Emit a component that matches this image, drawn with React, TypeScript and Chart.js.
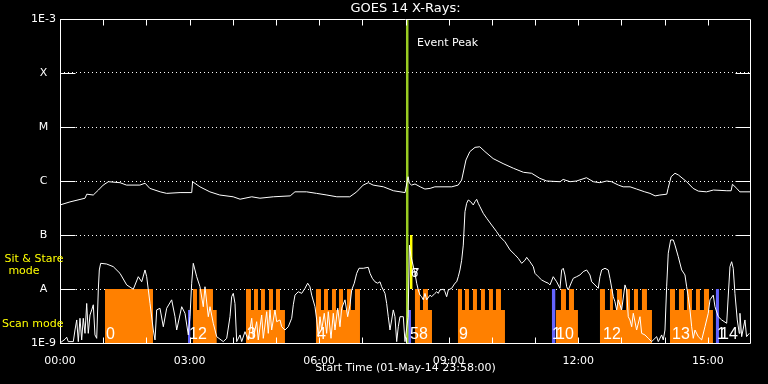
import React, { useEffect, useRef } from 'react';
import { Chart, registerables } from 'chart.js';

Chart.register(...registerables);

// ---------- data ----------
const yTickValues = [1e-9, 1e-8, 1e-7, 1e-6, 1e-5, 1e-4, 1e-3];
const yTickLabels = ['1E-9', 'A', 'B', 'C', 'M', 'X', '1E-3'];
const innerLevels = [1e-8, 1e-7, 1e-6, 1e-5, 1e-4];
const xTickValues = [0, 3, 6, 9, 12, 15];
const xTickLabels = ['00:00', '03:00', '06:00', '09:00', '12:00', '15:00'];
const hourMarks = [0, 1, 2, 3, 4, 5, 6, 7, 8, 9, 10, 11, 12, 13, 14, 15];
const eventPeakTime = 8.04;

// GOES long channel (1-8 A), hours since start, W/m^2
const longTimes = [0, 0.23, 0.58, 0.62, 0.77, 0.89, 1.0, 1.12, 1.39, 1.54, 1.85, 1.97, 2.08, 2.32, 2.47, 2.78, 3.05, 3.07, 3.24, 3.47, 3.7, 4.01, 4.17, 4.44, 4.63, 4.94, 5.33, 5.44, 5.71, 5.94, 6.18, 6.41, 6.71, 6.87, 7.02, 7.14, 7.25, 7.49, 7.72, 7.99, 8.06, 8.09, 8.14, 8.22, 8.34, 8.45, 8.57, 8.68, 9.07, 9.22, 9.3, 9.4, 9.49, 9.61, 9.72, 9.84, 10.03, 10.26, 10.5, 10.73, 10.92, 11.11, 11.27, 11.58, 11.65, 11.81, 11.96, 12.19, 12.35, 12.5, 12.66, 12.77, 12.93, 13.04, 13.2, 13.35, 13.54, 13.66, 13.78, 13.89, 14.05, 14.08, 14.15, 14.24, 14.32, 14.51, 14.66, 14.78, 14.97, 15.13, 15.44, 15.54, 15.57, 15.67, 15.74, 15.98];
const longFlux = [3.6e-7, 4.1e-7, 4.8e-7, 5.7e-7, 5.5e-7, 6.8e-7, 8.4e-7, 9.7e-7, 9.3e-7, 8.4e-7, 8.4e-7, 9.1e-7, 7.3e-7, 6.3e-7, 5.9e-7, 6.1e-7, 6.1e-7, 9.7e-7, 7.8e-7, 6.3e-7, 5.5e-7, 5.1e-7, 4.6e-7, 5.1e-7, 4.8e-7, 5.1e-7, 5.3e-7, 6.3e-7, 6.3e-7, 5.9e-7, 5.5e-7, 5.1e-7, 5.1e-7, 6.3e-7, 8.4e-7, 9.3e-7, 8.4e-7, 7.8e-7, 6.6e-7, 6.1e-7, 1.2e-6, 9.1e-7, 8.4e-7, 8.8e-7, 7.8e-7, 7.1e-7, 7.3e-7, 7.8e-7, 7.8e-7, 8.4e-7, 1.04e-6, 2.45e-6, 3.5e-6, 4.2e-6, 4.3e-6, 3.5e-6, 2.6e-6, 2.1e-6, 1.72e-6, 1.45e-6, 1.39e-6, 1.12e-6, 1.0e-6, 9.7e-7, 1.07e-6, 9.7e-7, 1.0e-6, 1.15e-6, 9.7e-7, 9.3e-7, 1.0e-6, 9.7e-7, 8.4e-7, 7.8e-7, 7.8e-7, 7.1e-7, 6.3e-7, 5.9e-7, 5.3e-7, 5.5e-7, 5.7e-7, 7.3e-7, 1.2e-6, 1.39e-6, 1.29e-6, 9.7e-7, 7.3e-7, 6.5e-7, 6.3e-7, 6.8e-7, 6.6e-7, 6.6e-7, 8.7e-7, 7.3e-7, 6.3e-7, 6.3e-7];

// GOES short channel (0.5-4 A)
const shortTimes = [0, 0.116, 0.155, 0.192, 0.308, 0.347, 0.387, 0.424, 0.463, 0.502, 0.539, 0.579, 0.618, 0.655, 0.695, 0.734, 0.771, 0.81, 0.85, 0.887, 0.91, 0.942, 1.081, 1.234, 1.389, 1.544, 1.697, 1.813, 1.892, 1.968, 2.007, 2.084, 2.16, 2.2, 2.239, 2.315, 2.392, 2.47, 2.586, 2.663, 2.702, 2.818, 2.894, 2.971, 3.01, 3.049, 3.086, 3.165, 3.241, 3.318, 3.357, 3.434, 3.473, 3.549, 3.628, 3.781, 3.86, 3.936, 3.975, 4.012, 4.052, 4.091, 4.168, 4.207, 4.283, 4.36, 4.439, 4.476, 4.554, 4.591, 4.67, 4.707, 4.786, 4.823, 4.862, 4.901, 4.978, 5.017, 5.094, 5.133, 5.209, 5.286, 5.365, 5.402, 5.441, 5.517, 5.596, 5.673, 5.735, 5.788, 5.828, 5.904, 5.944, 5.981, 6.02, 6.059, 6.119, 6.175, 6.212, 6.275, 6.328, 6.367, 6.43, 6.483, 6.522, 6.599, 6.661, 6.715, 6.754, 6.814, 6.87, 6.923, 7.022, 7.138, 7.178, 7.231, 7.293, 7.356, 7.409, 7.448, 7.525, 7.564, 7.601, 7.641, 7.68, 7.717, 7.756, 7.796, 7.833, 7.872, 7.949, 7.988, 8.06, 8.092, 8.127, 8.219, 8.259, 8.296, 8.335, 8.374, 8.412, 8.451, 8.49, 8.567, 8.606, 8.682, 8.722, 8.759, 8.798, 8.875, 8.914, 8.953, 8.991, 9.069, 9.145, 9.185, 9.222, 9.261, 9.3, 9.338, 9.377, 9.416, 9.454, 9.509, 9.569, 9.609, 9.648, 9.685, 9.724, 9.801, 9.88, 9.995, 10.111, 10.188, 10.303, 10.419, 10.535, 10.611, 10.69, 10.766, 10.806, 10.882, 10.959, 10.998, 11.074, 11.153, 11.229, 11.306, 11.345, 11.421, 11.5, 11.577, 11.616, 11.653, 11.692, 11.732, 11.769, 11.848, 11.885, 11.963, 12.04, 12.116, 12.195, 12.271, 12.311, 12.387, 12.463, 12.503, 12.542, 12.619, 12.695, 12.734, 12.811, 12.85, 12.889, 12.926, 13.005, 13.082, 13.121, 13.158, 13.197, 13.237, 13.274, 13.352, 13.429, 13.468, 13.545, 13.621, 13.7, 13.816, 13.853, 13.931, 13.968, 14.008, 14.047, 14.084, 14.14, 14.2, 14.24, 14.316, 14.395, 14.471, 14.51, 14.547, 14.587, 14.626, 14.663, 14.703, 14.779, 14.858, 14.934, 15.01, 15.05, 15.126, 15.166, 15.242, 15.321, 15.437, 15.513, 15.552, 15.589, 15.628, 15.682, 15.728, 15.744, 15.784, 15.86, 15.897, 15.96];
const shortFlux = [1.0e-9, 1.17e-9, 1.28e-9, 1.06e-9, 1.06e-9, 1.74e-9, 2.67e-9, 1.06e-9, 2.87e-9, 1.14e-9, 2.87e-9, 1.51e-9, 5.4e-9, 1.51e-9, 3.3e-9, 4.1e-9, 5.1e-9, 1.41e-9, 1.22e-9, 9.6e-9, 2.25e-8, 2.99e-8, 2.9e-8, 2.59e-8, 1.95e-8, 1.19e-8, 9.9e-9, 1.69e-8, 1.36e-8, 2.25e-8, 1.69e-8, 5.4e-9, 1.74e-9, 1.14e-9, 4.1e-9, 4.4e-9, 2.0e-9, 4.4e-9, 6.3e-9, 3.07e-9, 1.74e-9, 4.7e-9, 3.55e-9, 1.41e-9, 3.07e-9, 1.28e-8, 2.99e-8, 1.69e-8, 1.1e-8, 4.7e-9, 1.1e-8, 3.07e-9, 4.7e-9, 2.32e-9, 1.31e-9, 1.06e-9, 1.22e-9, 3.07e-9, 7.2e-9, 8.3e-9, 5.4e-9, 1.06e-9, 1.41e-9, 1.06e-9, 1.62e-9, 1.14e-9, 2.87e-9, 1.22e-9, 2.48e-9, 1.14e-9, 3.3e-9, 1.22e-9, 3.8e-9, 1.51e-9, 4.1e-9, 1.74e-9, 4.1e-9, 2.48e-9, 2.67e-9, 2.0e-9, 1.74e-9, 2.0e-9, 2.87e-9, 5.1e-9, 7.7e-9, 8.9e-9, 8.3e-9, 1.03e-8, 1.28e-8, 1.1e-8, 7.7e-9, 4.7e-9, 2.67e-9, 1.31e-9, 3.07e-9, 1.74e-9, 3.55e-9, 1.51e-9, 3.8e-9, 1.22e-9, 3.55e-9, 1.74e-9, 4.4e-9, 2.0e-9, 4.4e-9, 6.3e-9, 3.07e-9, 5.1e-9, 9.6e-9, 1.28e-8, 1.95e-8, 2.42e-8, 2.42e-8, 2.52e-8, 1.95e-8, 1.58e-8, 1.36e-8, 1.28e-8, 1.36e-8, 1.1e-8, 8.3e-9, 5.4e-9, 3.07e-9, 1.74e-9, 2.67e-9, 4.1e-9, 3.07e-9, 1.06e-9, 2.0e-9, 3.07e-9, 3.07e-9, 1.06e-9, 3.0e-9, 6.5e-8, 4.0e-8, 1.95e-8, 1.28e-8, 9.6e-9, 7.7e-9, 7.2e-9, 6.3e-9, 8.3e-9, 6.3e-9, 7.7e-9, 7.2e-9, 8.3e-9, 8.9e-9, 8.3e-9, 9.6e-9, 9.9e-9, 8.9e-9, 7.2e-9, 9.6e-9, 1.03e-8, 1.28e-8, 1.36e-8, 1.69e-8, 2.25e-8, 3.4e-8, 6.5e-8, 2.7e-7, 3.86e-7, 4.45e-7, 4.14e-7, 3.6e-7, 4.14e-7, 4.58e-7, 3.86e-7, 3.34e-7, 2.52e-7, 2.04e-7, 1.53e-7, 1.15e-7, 9.3e-8, 7.5e-8, 5.3e-8, 4.3e-8, 3.7e-8, 2.99e-8, 3.4e-8, 3.86e-8, 3.2e-8, 2.59e-8, 1.95e-8, 1.69e-8, 1.47e-8, 1.36e-8, 1.28e-8, 1.19e-8, 1.69e-8, 1.36e-8, 1.03e-8, 2.25e-8, 2.42e-8, 1.82e-8, 1.1e-8, 9.6e-9, 1.36e-8, 1.58e-8, 1.69e-8, 1.82e-8, 2.1e-8, 2.25e-8, 1.82e-8, 1.36e-8, 1.19e-8, 1.03e-8, 1.69e-8, 2.25e-8, 2.42e-8, 2.25e-8, 1.58e-8, 7.2e-9, 5.8e-9, 4.1e-9, 6.3e-9, 4.1e-9, 1.19e-8, 9.6e-9, 3.07e-9, 2.67e-9, 2.0e-9, 3.55e-9, 1.74e-9, 3.07e-9, 1.51e-9, 1.41e-9, 1.22e-9, 1.06e-9, 1.31e-9, 1.06e-9, 1.41e-9, 1.14e-9, 1.74e-9, 1.1e-8, 4.6e-8, 8.1e-8, 8.1e-8, 6.5e-8, 3.96e-8, 2.25e-8, 1.82e-8, 1.1e-8, 7.2e-9, 4.1e-9, 2.0e-9, 1.22e-9, 1.74e-9, 1.31e-9, 1.14e-9, 2.0e-9, 3.55e-9, 6.3e-9, 7.7e-9, 4.7e-9, 3.07e-9, 2.67e-9, 2.32e-9, 2.59e-8, 3.2e-8, 2.42e-8, 8.3e-9, 2.67e-9, 1.51e-9, 3.55e-9, 1.31e-9, 2.67e-9, 1.31e-9, 1.51e-9];

// Scan-mode observations (orange): level holds from each time to the next
const scanTimes = [1.042, 2.153, 3.079, 3.172, 3.225, 3.542, 3.628, 4.307, 4.422, 4.492, 4.584, 4.654, 4.746, 4.839, 4.932, 5.001, 5.094, 5.209, 5.927, 6.043, 6.113, 6.205, 6.298, 6.39, 6.46, 6.553, 6.645, 6.738, 6.83, 6.946, 8.219, 8.335, 8.405, 8.52, 8.613, 9.215, 9.308, 9.377, 9.47, 9.562, 9.655, 9.748, 9.84, 9.933, 10.025, 10.095, 10.211, 10.303, 11.484, 11.6, 11.716, 11.785, 11.901, 11.993, 12.503, 12.619, 12.734, 12.804, 12.896, 13.012, 13.105, 13.198, 13.29, 13.383, 13.475, 13.591, 13.707, 14.124, 14.24, 14.332, 14.448, 14.517, 14.633, 14.726, 14.818, 14.911, 15.027, 15.119];
const scanLevels = [1e-8, 1e-9, 1e-8, 4.1e-9, 1e-8, 4.1e-9, 1e-9, 1e-8, 4.1e-9, 1e-8, 4.1e-9, 1e-8, 4.1e-9, 1e-8, 4.1e-9, 1e-8, 4.1e-9, 1e-9, 1e-8, 4.1e-9, 1e-8, 4.1e-9, 1e-8, 4.1e-9, 1e-8, 4.1e-9, 1e-8, 4.1e-9, 1e-8, 1e-9, 1e-8, 4.1e-9, 1e-8, 4.1e-9, 1e-9, 1e-8, 4.1e-9, 1e-8, 4.1e-9, 1e-8, 4.1e-9, 1e-8, 4.1e-9, 1e-8, 4.1e-9, 1e-8, 4.1e-9, 1e-9, 4.1e-9, 1e-8, 4.1e-9, 1e-8, 4.1e-9, 1e-9, 1e-8, 4.1e-9, 1e-8, 4.1e-9, 1e-8, 4.1e-9, 1e-8, 4.1e-9, 1e-8, 4.1e-9, 1e-8, 4.1e-9, 1e-9, 1e-8, 4.1e-9, 1e-8, 4.1e-9, 1e-8, 4.1e-9, 1e-8, 4.1e-9, 1e-8, 4.1e-9, 1e-9];

// Other observations (blue)
const blueTimes = [2.964, 3.017, 8.05, 8.127, 11.391, 11.468, 15.188, 15.258];
const blueLevels = [4.1e-9, 1e-9, 4.1e-9, 1e-9, 1e-8, 1e-9, 1e-8, 1e-9];

// Sit & stare observation (yellow), between B and A levels
const stareTimes = [8.103, 8.166];
const stareTop = [1e-7, 1e-7];
const stareBottom = 1e-8;

// Observation number labels
const obsLabelTimes = [1.065, 2.987, 4.33, 5.95, 8.104, 9.238, 11.39, 11.48, 12.572, 14.17, 15.21, 15.28];
const obsLabelTexts = ['0', '12', '3', '4', '58', '9', '1', '10', '12', '13', '1', '14'];
const stareLabelTimes = [8.12, 8.16];
const stareLabelTexts = ['6', '7'];

const pts = (xs: number[], ys: number[]) => xs.map((x, i) => ({ x, y: ys[i] }));

const decorPlugin = {
  id: 'decor',
  afterDatasetsDraw(chart: any) {
    const { ctx, chartArea, scales } = chart;
    const xs = scales.x;
    const bottom = chartArea.bottom;
    ctx.save();
    ctx.fillStyle = '#ffffff';
    ctx.textBaseline = 'alphabetic';
    ctx.textAlign = 'left';
    ctx.font = '16px "Liberation Sans"';
    obsLabelTimes.forEach((t, i) => {
      ctx.fillText(obsLabelTexts[i], Math.round(xs.getPixelForValue(t)), bottom - 4);
    });
    ctx.font = '13px "Liberation Sans"';
    stareLabelTimes.forEach((t, i) => {
      ctx.fillText(stareLabelTexts[i], Math.round(xs.getPixelForValue(t)), bottom - 66);
    });
    ctx.restore();
  },
  afterDraw(chart: any) {
    const { ctx, chartArea, scales } = chart;
    const xs = scales.x;
    const ys = scales.y;
    const L = Math.floor(chartArea.left) + 0.5;
    const R = Math.floor(chartArea.right) - 0.5;
    const T = Math.floor(chartArea.top) + 0.5;
    const B = Math.floor(chartArea.bottom) + 0.5;
    ctx.save();
    ctx.strokeStyle = '#ffffff';
    ctx.lineWidth = 1;
    ctx.setLineDash([]);
    ctx.beginPath();
    ctx.moveTo(L, T); ctx.lineTo(R, T); ctx.lineTo(R, B); ctx.lineTo(L, B); ctx.closePath();
    innerLevels.forEach((v) => {
      const y = Math.round(ys.getPixelForValue(v)) + 0.5;
      ctx.moveTo(L, y); ctx.lineTo(L + 15, y);
      ctx.moveTo(R - 15, y); ctx.lineTo(R, y);
    });
    hourMarks.forEach((h) => {
      const x = Math.round(xs.getPixelForValue(h)) + 0.5;
      ctx.moveTo(x, T); ctx.lineTo(x, T + 6);
      ctx.moveTo(x, B); ctx.lineTo(x, B - 6);
    });
    ctx.stroke();

    ctx.font = '11px "DejaVu Sans"';
    ctx.textBaseline = 'middle';
    ctx.fillStyle = '#ffffff';
    ctx.textAlign = 'left';
    ctx.fillText('Event Peak', Math.round(xs.getPixelForValue(eventPeakTime)) + 10, T + 24);

    ctx.fillStyle = '#ffff00';
    ctx.textAlign = 'center';
    ctx.fillText('Sit & Stare', 34, 259);
    ctx.fillText('mode', 24, 271);
    ctx.textAlign = 'left';
    ctx.fillText('Scan mode', 2, 324);
    ctx.restore();
  },
};

export default function App() {
  const ref = useRef<HTMLCanvasElement | null>(null);
  useEffect(() => {
    document.body.style.margin = '0';
    document.body.style.background = '#000';
    Chart.defaults.font.family = '"DejaVu Sans"';
    const chart = new Chart(ref.current as HTMLCanvasElement, {
      type: 'line',
      data: {
        datasets: [
          { label: 'long', data: pts(longTimes, longFlux), borderColor: '#ffffff', borderWidth: 1, pointRadius: 0, fill: false, tension: 0 },
          { label: 'short', data: pts(shortTimes, shortFlux), borderColor: '#ffffff', borderWidth: 1, pointRadius: 0, fill: false, tension: 0 },
          { label: 'peak', data: [{ x: eventPeakTime, y: 1e-9 }, { x: eventPeakTime, y: 1e-3 }], borderColor: '#99cc22', borderWidth: 2.5, pointRadius: 0, fill: false },
          { label: 'stare', data: pts(stareTimes, stareTop), stepped: 'before', borderColor: 'rgba(0,0,0,0)', borderWidth: 0, pointRadius: 0, backgroundColor: '#ffff00', fill: { value: stareBottom } },
          { label: 'blue', data: pts(blueTimes, blueLevels), stepped: 'before', borderColor: 'rgba(0,0,0,0)', borderWidth: 0, pointRadius: 0, backgroundColor: '#6464ff', fill: 'start' },
          { label: 'scan', data: pts(scanTimes, scanLevels), stepped: 'before', borderColor: 'rgba(0,0,0,0)', borderWidth: 0, pointRadius: 0, backgroundColor: '#ff8000', fill: 'start' },
        ],
      },
      options: {
        responsive: false,
        maintainAspectRatio: false,
        devicePixelRatio: 1,
        animation: false,
        layout: { padding: { left: 0, right: 17, top: 0, bottom: 0 } },
        plugins: {
          legend: { display: false },
          tooltip: { enabled: false },
          title: {
            display: true,
            text: 'GOES 14 X-Rays:',
            color: '#ffffff',
            fullSize: false,
            font: { size: 13, weight: 'normal', family: '"DejaVu Sans"' },
            padding: { top: 1, bottom: 2.4 },
          },
        },
        scales: {
          x: {
            type: 'linear',
            min: 0,
            max: 16,
            afterBuildTicks: (s: any) => { s.ticks = xTickValues.map((v) => ({ value: v })); },
            afterFit: (s: any) => { s.height = 41; },
            ticks: { color: '#ffffff', font: { size: 11 }, padding: 4, maxRotation: 0, autoSkip: false, callback: (_v: any, i: number) => xTickLabels[i] },
            grid: { display: false },
            border: { display: false },
            title: { display: true, text: 'Start Time (01-May-14 23:58:00)', color: '#ffffff', font: { size: 11 }, padding: { top: 0, bottom: 9 } },
          },
          y: {
            type: 'logarithmic',
            min: 1e-9,
            max: 1e-3,
            afterBuildTicks: (s: any) => { s.ticks = yTickValues.map((v) => ({ value: v })); },
            afterFit: (s: any) => { s.width = 60; },
            ticks: { color: '#ffffff', font: { size: 11 }, padding: 4, crossAlign: 'center', autoSkip: false, callback: (_v: any, i: number) => yTickLabels[i] },
            grid: { color: '#ffffff', lineWidth: 1, drawTicks: false },
            border: { display: false, dash: [1, 3] },
          },
        },
      } as any,
      plugins: [decorPlugin],
    });
    return () => chart.destroy();
  }, []);
  return (
    <div style={{ position: 'fixed', left: 0, top: 0, width: 768, height: 384, background: '#000' }}>
      <canvas ref={ref} width={768} height={384} style={{ display: 'block' }} />
    </div>
  );
}
